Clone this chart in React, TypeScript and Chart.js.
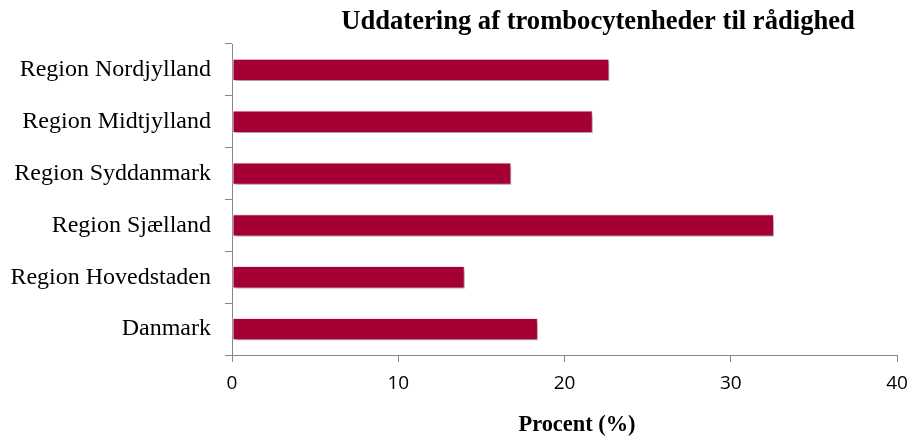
import React, { useEffect, useRef } from "react";
import { Chart, registerables } from "chart.js";

Chart.register(...registerables);

const TITLE = "Uddatering af trombocytenheder til rådighed";
const AXIS_TITLE = "Procent (%)";
const categories = [
  "Region Nordjylland",
  "Region Midtjylland",
  "Region Syddanmark",
  "Region Sjælland",
  "Region Hovedstaden",
  "Danmark",
];
const values = [22.7, 21.7, 16.8, 32.6, 14.0, 18.4];
const xTicks = [0, 10, 20, 30, 40];

const shadowPlugin = {
  id: "barShadow",
  beforeDatasetsDraw(chart: any) {
    const ctx = chart.ctx;
    ctx.save();
    ctx.shadowColor = "rgba(0,0,0,0.35)";
    ctx.shadowOffsetX = 2;
    ctx.shadowOffsetY = 3;
    ctx.shadowBlur = 4;
  },
  afterDatasetsDraw(chart: any) {
    chart.ctx.restore();
  },
};

const titlePlugin = {
  id: "customTitle",
  afterDraw(chart: any) {
    const ctx = chart.ctx;
    ctx.save();
    ctx.fillStyle = "#000";
    ctx.textAlign = "center";
    ctx.textBaseline = "middle";
    ctx.font = "bold 26.6px 'Liberation Serif', 'Times New Roman', serif";
    ctx.fillText(TITLE, 598, 22);
    ctx.font = "bold 22.4px 'Liberation Serif', 'Times New Roman', serif";
    ctx.fillText(AXIS_TITLE, 577, 425);
    ctx.restore();
  },
};

export default function App() {
  const ref = useRef<HTMLCanvasElement>(null);
  useEffect(() => {
    if (!ref.current) return;
    const chart = new Chart(ref.current, {
      type: "bar",
      data: {
        labels: categories,
        datasets: [
          {
            data: values,
            backgroundColor: "#A50034",
            borderColor: "rgba(255,225,232,0.95)",
            borderWidth: 1,
            borderSkipped: false,
            barPercentage: 0.43,
            categoryPercentage: 1,
          },
        ],
      },
      plugins: [shadowPlugin, titlePlugin],
      options: {
        indexAxis: "y",
        animation: false,
        responsive: false,
        maintainAspectRatio: false,
        layout: { padding: { top: 44, right: 14, bottom: 0, left: 0 } },
        plugins: {
          legend: { display: false },
          title: { display: false },
          tooltip: { enabled: false },
        },
        scales: {
          y: {
            offset: true,
            afterFit(scale: any) {
              scale.width = 232;
            },
            grid: {
              drawOnChartArea: false,
              drawTicks: true,
              tickLength: 7,
              color: "#868686",
              offset: true,
            },
            border: { color: "#868686", width: 1 },
            ticks: {
              color: "#000",
              padding: 14,
              font: { family: "'Liberation Serif', 'Times New Roman', serif", size: 24 },
            },
          },
          x: {
            min: 0,
            max: 40,
            afterFit(scale: any) {
              scale.height = 82;
              scale.paddingRight = 0;
              scale.paddingLeft = 0;
            },
            afterBuildTicks(scale: any) {
              scale.ticks = xTicks.map((v) => ({ value: v }));
            },
            grid: {
              drawOnChartArea: false,
              drawTicks: true,
              tickLength: 7,
              color: "#868686",
            },
            border: { color: "#868686", width: 1 },
            ticks: {
              color: "#000",
              padding: 10,
              maxRotation: 0,
              font: { family: "'Open Sans', sans-serif", size: 19 },
            },
            title: { display: false },
          },
        },
      },
    });
    return () => chart.destroy();
  }, []);
  return (
    <div style={{ position: "fixed", left: 0, top: 0, width: 911, height: 437, background: "#fff" }}>
      <canvas ref={ref} width={911} height={437} style={{ width: 911, height: 437 }} />
    </div>
  );
}
